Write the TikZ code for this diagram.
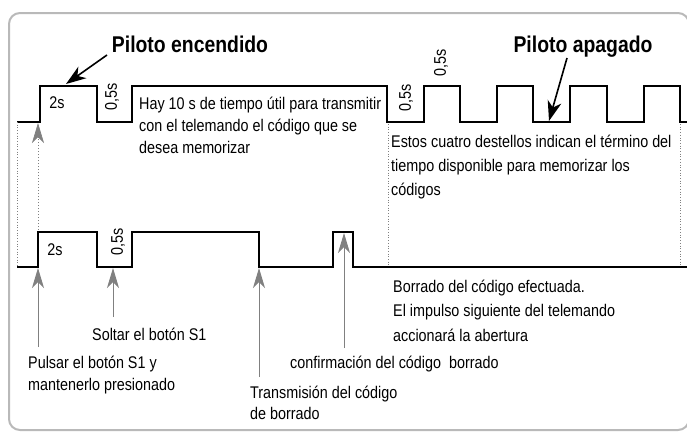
\documentclass[tikz,border=0pt]{standalone}
\usepackage{fontspec}
\setmainfont{Liberation Sans}[FakeStretch=0.85]
\usetikzlibrary{arrows.meta}

\begin{document}
\begin{tikzpicture}[x=1pt, y=-1pt,
  wave/.style={line width=2.4pt, line join=miter},
  guide/.style={draw=gray, line width=0.7pt, dotted},
  hint/.style={draw=gray, line width=1pt, -{Stealth[length=20pt, width=12pt, inset=6pt]}},
  pointer/.style={line width=1.6pt, -{Stealth[length=20pt, width=14pt, inset=6pt]}},
  title/.style={inner sep=0pt, anchor=base, font=\fontsize{22.8}{26}\selectfont\bfseries},
  txt/.style={inner sep=0pt, anchor=base west, align=left, font=\fontsize{16.9}{#1}\selectfont},
  txt/.default=22,
  lbl/.style={inner sep=0pt, font=\fontsize{16.9}{20}\selectfont}]
  \useasboundingbox (0,0) rectangle (687,431);
  \draw[gray!55, line width=2pt, rounded corners=11pt] (9,13) rectangle (689,430);

  % top trace: pilot light
  \draw[wave] (17,122) -- (40,122) -- (40,86) -- (97,86) -- (97,122) -- (132,122) -- (132,86)
    -- (387,86) -- (387,122) -- (424,122) -- (424,86) -- (460,86) -- (460,122)
    -- (497,122) -- (497,86) -- (533,86) -- (533,122) -- (570,122) -- (570,86)
    -- (607,86) -- (607,122) -- (644,122) -- (644,86) -- (680,86) -- (680,122) -- (690,122);
  % bottom trace: button S1 / remote
  \draw[wave] (17,267) -- (38,267) -- (38,232) -- (97,232) -- (97,267) -- (132,267) -- (132,232)
    -- (259,232) -- (259,267) -- (333,267) -- (333,232) -- (353,232) -- (353,267) -- (690,267);

  % guide lines
  \coordinate (g0a) at (17,122);  \coordinate (g0b) at (17,267);
  \coordinate (g1a) at (388,124); \coordinate (g1b) at (388,267);
  \coordinate (g2a) at (680,124); \coordinate (g2b) at (680,267);
  \draw[guide] (g0a) -- (g0b);
  \draw[guide] (g1a) -- (g1b);
  \draw[guide] (g2a) -- (g2b);

  % durations
  \node[lbl] (up2s) at (57,103) {2s};
  \node[lbl, rotate=90] (upGap) at (112,97) {0,5s};
  \node[lbl, rotate=90] (offA) at (406,98) {0,5s};
  \node[lbl, rotate=90] (onA) at (441,63) {0,5s};
  \node[lbl] (dn2s) at (55,250) {2s};
  \node[lbl, rotate=90] (dnGap) at (118,242) {0,5s};

  % titles
  \node[title] (encendido) at (190,52) {Piloto encendido};
  \node[title] (apagado) at (583,52) {Piloto apagado};
  \coordinate (encTail) at (107,55);  \coordinate (encTip) at (66,84);
  \coordinate (apaTail) at (567,58);  \coordinate (apaTip) at (549,121);
  \draw[pointer] (encTail) -- (encTip);
  \draw[pointer] (apaTail) -- (apaTip);

  % notes (base = last line)
  \node[txt] (util) at (139,153) {Hay 10 s de tiempo útil para transmitir\\con el telemando el código que se\\desea memorizar};
  \node[txt=24] (destellos) at (391,195) {Estos cuatro destellos indican el término del\\tiempo disponible para memorizar los\\códigos};
  \node[txt=24.5] (efectuada) at (393,341) {Borrado del código efectuada.\\El impulso siguiente del telemando\\accionará la abertura};
  \node[txt] (confirma) at (290,368) {confirmación del código\ \ borrado};
  \node[txt=21] (transmite) at (250,419) {Transmisión del código\\de borrado};
  \node[txt] (pulsar) at (28,390) {Pulsar el botón S1 y\\mantenerlo presionado};
  \node[txt] (soltar) at (92,340) {Soltar el botón S1};

  % event arrows
  \coordinate (pulsarTail) at (38,347);  \coordinate (pulsarTip) at (38,268);
  \coordinate (holdTail) at (38,230);    \coordinate (holdTip) at (38,123);
  \coordinate (soltarTail) at (113,317); \coordinate (soltarTip) at (113,268);
  \coordinate (transTail) at (259,377);  \coordinate (transTip) at (259,268);
  \coordinate (confTail) at (344,348);   \coordinate (confTip) at (344,233);
  \draw[hint] (pulsarTail) -- (pulsarTip);
  \draw[hint, dotted, line width=0.7pt] (holdTail) -- (holdTip);
  \draw[hint] (soltarTail) -- (soltarTip);
  \draw[hint] (transTail) -- (transTip);
  \draw[hint] (confTail) -- (confTip);
\end{tikzpicture}
\end{document}
